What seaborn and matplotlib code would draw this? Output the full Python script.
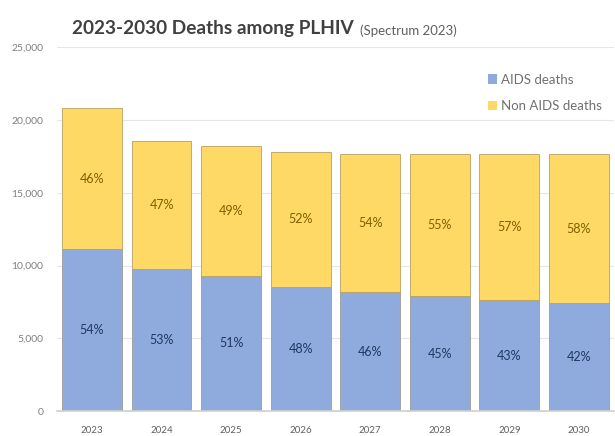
import matplotlib
matplotlib.use("Agg")
import matplotlib.pyplot as plt
import seaborn as sns
import numpy as np
import pandas as pd
from matplotlib.patches import Patch

years = ["2023", "2024", "2025", "2026", "2027", "2028", "2029", "2030"]
aids_deaths = [11150, 9750, 9300, 8550, 8150, 7900, 7600, 7400]
non_aids_deaths = [9650, 8790, 8900, 9250, 9500, 9750, 10050, 10250]
y_ticks = [0, 5000, 10000, 15000, 20000, 25000]

blue = "#8FAADC"
yellow = "#FFD966"

sns.set_theme(style="white")
plt.rcParams['font.family'] = ['Lato', 'DejaVu Sans']

df = pd.DataFrame({"year": years, "aids": aids_deaths, "non": non_aids_deaths})
df["total"] = df["aids"] + df["non"]

fig = plt.figure(figsize=(6.15, 4.36), dpi=100)
ax = fig.add_axes([0.093, 0.057, 0.905, 0.835])

sns.barplot(data=df, x="year", y="aids", color=blue, width=0.86, ax=ax,
            edgecolor="#9a9a9a", linewidth=0.6, saturation=1)
sns.barplot(data=df, x="year", y="non", color=yellow, width=0.86, ax=ax,
            bottom=df["aids"].values, edgecolor="#b8a060", linewidth=0.6,
            saturation=1)

for i, row in df.iterrows():
    pa = round(100 * row["aids"] / row["total"])
    pn = round(100 * row["non"] / row["total"])
    ax.text(i, row["aids"] / 2, f"{pa}%", ha="center", va="center",
            fontsize=9, color="#1F3864")
    ax.text(i, row["aids"] + row["non"] / 2, f"{pn}%", ha="center",
            va="center", fontsize=9, color="#7F6000")

ax.set_ylim(0, 25000)
ax.set_xlim(-0.5, 7.5)
ax.set_yticks(y_ticks)
ax.set_yticklabels([f"{v:,}" for v in y_ticks], fontsize=7.5, color="#808080")
ax.tick_params(axis="x", labelsize=7, colors="#606060", length=0, pad=11)
ax.tick_params(axis="y", length=0, pad=10)
ax.set_xlabel("")
ax.set_ylabel("")
ax.yaxis.grid(True, color="#E6E6E6", linewidth=0.8)
ax.set_axisbelow(True)
for s in ["top", "right", "left"]:
    ax.spines[s].set_visible(False)
ax.spines["bottom"].set_color("#D0D0D0")

t = fig.text(0.117, 0.935, "2023-2030 Deaths among PLHIV", fontsize=13.7,
             fontweight="bold", color="#404040", ha="left", va="center")
fig.canvas.draw()
bb = t.get_window_extent(renderer=fig.canvas.get_renderer())
x_end = bb.x1 / fig.bbox.width
fig.text(x_end + 0.01, 0.93, "(Spectrum 2023)", fontsize=9.5, color="#606060",
         ha="left", va="center")

handles = [Patch(facecolor=blue, edgecolor="none", label="AIDS deaths"),
           Patch(facecolor=yellow, edgecolor="none", label="Non AIDS deaths")]
ax.legend(handles=handles, loc="upper right", bbox_to_anchor=(1.0, 0.96),
          frameon=False, fontsize=9.5, labelcolor="#707070", handlelength=0.7,
          handleheight=0.7, handletextpad=0.3, labelspacing=1.1)

fig.savefig("out.png", dpi=100)
